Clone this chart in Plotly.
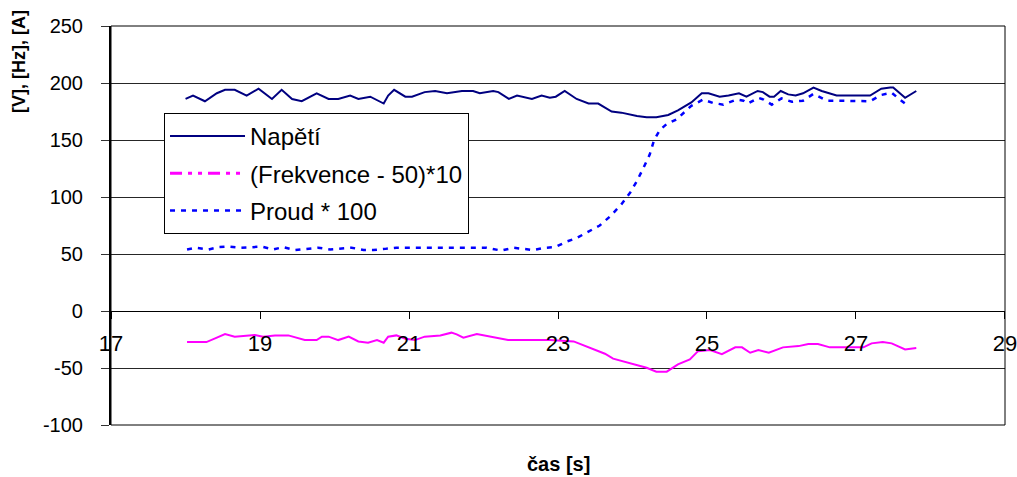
import plotly.graph_objects as go

# Napětí [V]
t_napeti = [18.00, 18.10, 18.26, 18.42, 18.53, 18.66, 18.82, 18.98, 19.16, 19.29,
            19.43, 19.56, 19.76, 19.92, 20.05, 20.21, 20.32, 20.48, 20.66, 20.72,
            20.80, 20.95, 21.04, 21.21, 21.35, 21.51, 21.71, 21.86, 21.95, 22.13,
            22.20, 22.34, 22.45, 22.65, 22.78, 22.89, 22.97, 23.09, 23.25, 23.41,
            23.54, 23.72, 23.85, 24.06, 24.19, 24.32, 24.48, 24.61, 24.79, 24.93,
            25.02, 25.17, 25.29, 25.43, 25.53, 25.68, 25.75, 25.84, 25.90, 25.99,
            26.09, 26.19, 26.29, 26.43, 26.54, 26.74, 27.19, 27.34, 27.46, 27.50,
            27.66, 27.81]
napeti = [186, 189, 184, 191, 194, 194, 189, 195, 186, 194,
          186, 184, 191, 186, 186, 189, 186, 188, 182, 189,
          194, 188, 188, 192, 193, 191, 193, 193, 191, 193,
          192, 186, 189, 186, 189, 187, 188, 193, 186, 182,
          182, 175, 174, 171, 170, 170, 172, 176, 183, 191,
          191, 188, 189, 191, 188, 193, 192, 188, 188, 193,
          190, 189, 191, 196, 193, 189, 189, 195, 196, 196,
          187, 193]

# (Frekvence - 50)*10
t_frekvence = [18.02, 18.28, 18.42, 18.53, 18.66, 18.82, 18.93, 19.04, 19.20, 19.38,
               19.60, 19.76, 19.83, 19.92, 20.05, 20.19, 20.32, 20.45, 20.57, 20.66,
               20.72, 20.83, 20.95, 21.08, 21.21, 21.42, 21.57, 21.64, 21.73, 21.91,
               22.11, 22.33, 22.78, 22.89, 23.21, 23.39, 23.63, 23.74, 23.97, 24.19,
               24.32, 24.46, 24.61, 24.77, 24.88, 25.04, 25.20, 25.38, 25.47, 25.58,
               25.69, 25.83, 26.02, 26.23, 26.36, 26.49, 26.65, 27.10, 27.21, 27.36,
               27.48, 27.66, 27.81]
frekvence = [-27.3, -27.3, -23.4, -20.2, -22.5, -21.4, -21.1, -22.5, -21.4, -21.4,
             -25.5, -25.5, -22.5, -22.5, -25.5, -22.5, -26.7, -27.8, -25.5, -27.8,
             -22.5, -21.4, -24.3, -25.5, -22.5, -21.4, -19.0, -20.5, -23.4, -20.2,
             -22.5, -25.5, -25.5, -25.5, -26.7, -31.3, -37.5, -41.8, -46.2, -49.8,
             -53.2, -53.2, -46.8, -42.5, -35.2, -34.3, -37.8, -31.9, -31.9, -36.6,
             -34.3, -36.6, -31.9, -30.8, -29.0, -29.0, -31.9, -31.9, -28.4, -27.3,
             -28.4, -33.7, -32.5]

# Proud * 100
t_proud = [18.02, 18.13, 18.31, 18.44, 18.57, 18.73, 18.89, 19.02, 19.18, 19.31,
           19.47, 19.60, 19.78, 19.94, 20.07, 20.23, 20.39, 20.52, 20.68, 20.83,
           20.99, 21.17, 21.30, 22.04, 22.24, 22.40, 22.67, 22.83, 22.96, 23.12,
           23.25, 23.43, 23.56, 23.70, 23.85, 23.97, 24.06, 24.15, 24.23, 24.29,
           24.37, 24.46, 24.59, 24.64, 24.79, 24.95, 25.08, 25.22, 25.40, 25.49,
           25.55, 25.69, 25.76, 25.87, 26.00, 26.14, 26.29, 26.43, 26.61, 26.74,
           27.19, 27.34, 27.48, 27.57, 27.68]
proud = [54, 55.5, 54, 56, 56.5, 55.5, 56, 56.5, 54, 56,
         53.5, 54.5, 55.5, 54, 54.5, 55.5, 53.5, 53.5, 54.5, 55.5,
         55.5, 55.5, 55.5, 55.5, 53, 55.5, 53.5, 55.5, 56, 61,
         64, 70, 75, 83, 93.5, 104, 114, 126, 137, 150,
         159, 164, 168, 171, 180, 185.5, 182.5, 181, 185.5, 184.5,
         182, 187, 185.5, 181, 186.5, 183.5, 184.5, 190.5, 184.5, 184.5,
         184, 189.5, 191.5, 186.5, 181]

x_ticks = [17, 19, 21, 23, 25, 27, 29]
y_ticks = [-100, -50, 0, 50, 100, 150, 200, 250]

FONT = "Liberation Sans, Arial, sans-serif"
NAVY = "#000080"
MAGENTA = "#FF00FF"
BLUE = "#0000FF"
LABEL_GAP = "\u2002\u2009"  # extra room between y tick labels and the axis

fig = go.Figure()

fig.add_trace(go.Scatter(
    x=t_napeti, y=napeti, mode="lines", name="Napětí",
    line=dict(color=NAVY, width=2), legendgroup="a", legendrank=1,
))
# frequency curve drawn solid; its legend key uses the dash-dot pattern
fig.add_trace(go.Scatter(
    x=t_frekvence, y=frekvence, mode="lines", name="(Frekvence - 50)*10",
    line=dict(color=MAGENTA, width=2), legendgroup="b", showlegend=False,
))
fig.add_trace(go.Scatter(
    x=[None], y=[None], mode="lines", name="(Frekvence - 50)*10",
    line=dict(color=MAGENTA, width=3, dash="12px,6px,4px,6px,4px,6px"),
    legendgroup="b", legendrank=2,
))
fig.add_trace(go.Scatter(
    x=t_proud, y=proud, mode="lines", name="Proud * 100",
    line=dict(color=BLUE, width=2.5, dash="5px,6px"), legendgroup="c", legendrank=3,
))

fig.update_layout(
    width=1017, height=477,
    margin=dict(l=111, r=12, t=26, b=52),
    paper_bgcolor="white", plot_bgcolor="white",
    font=dict(family=FONT, color="black"),
    showlegend=True,
    legend=dict(
        x=0.0593, y=0.782, xanchor="left", yanchor="top",
        bgcolor="white", bordercolor="black", borderwidth=1,
        font=dict(size=24, family=FONT, color="black"),
        itemwidth=75, traceorder="grouped", tracegroupgap=3,
    ),
    xaxis=dict(
        range=[16.999, 29.001], tickvals=x_ticks, ticktext=[str(v) for v in x_ticks],
        anchor="free", position=100 / 350, automargin=False,
        showline=True, linecolor="black", linewidth=1,
        ticks="outside", ticklen=7, tickcolor="black", ticklabelstandoff=6,
        ticklabeloverflow="allow",
        showgrid=False, zeroline=False,
        tickfont=dict(size=22, family=FONT, color="black"),
    ),
    yaxis=dict(
        range=[-100, 250], tickvals=y_ticks,
        ticktext=[f"{v}{LABEL_GAP}" for v in y_ticks], automargin=False,
        showline=True, linecolor="black", linewidth=2,
        ticks="outside", ticklen=8, tickcolor="#333333",
        showgrid=True, gridcolor="#262626", gridwidth=1, zeroline=False,
        tickfont=dict(size=20, family=FONT, color="black"),
    ),
    shapes=[dict(type="rect", xref="paper", yref="paper", x0=0, x1=1, y0=0, y1=1,
                 line=dict(color="black", width=1), fillcolor="rgba(0,0,0,0)", layer="above")],
    annotations=[
        dict(text="<b>[V], [Hz], [A]</b>", textangle=-90, xref="paper", yref="paper",
             x=-0.1029, y=0.91, xanchor="center", yanchor="middle", showarrow=False,
             font=dict(size=18, family=FONT, color="black")),
        dict(text="<b>čas [s]</b>", xref="paper", yref="paper",
             x=0.5, y=0, yshift=-39, xanchor="center", yanchor="middle", showarrow=False,
             font=dict(size=20, family=FONT, color="black")),
    ],
)

fig.write_html("out.html")
